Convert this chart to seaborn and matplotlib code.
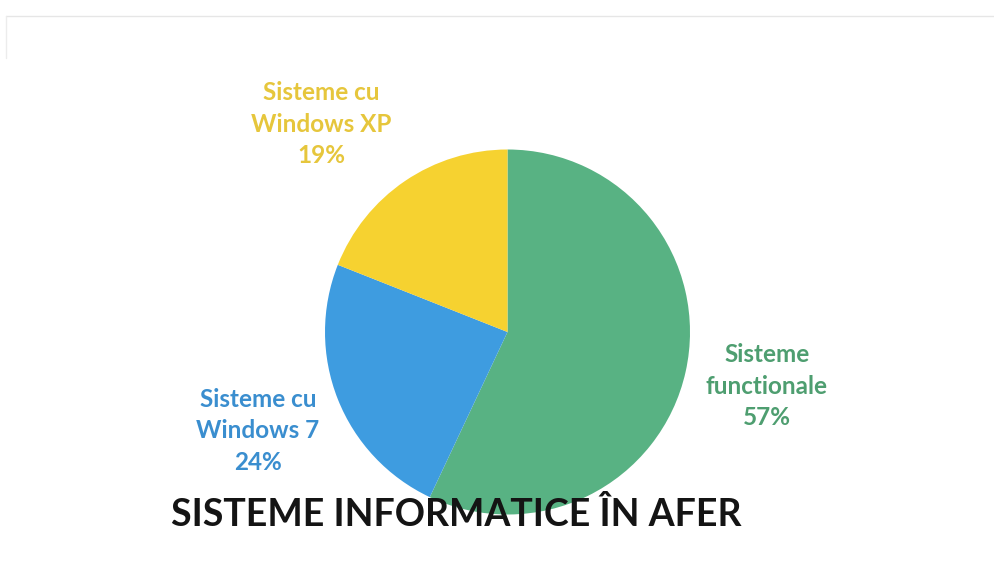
import matplotlib
matplotlib.use("Agg")
import matplotlib.pyplot as plt
import seaborn as sns

categories = ["Sisteme\nfunctionale", "Sisteme cu\nWindows 7", "Sisteme cu\nWindows XP"]
values = [57, 24, 19]
colors = ["#58B283", "#3E9CE0", "#F6D230"]
text_colors = ["#4E9E70", "#3A8ECF", "#E6C63C"]
title = "SISTEME INFORMATICE ÎN AFER"

sns.set_theme(style="white")
plt.rcParams["font.family"] = ["Lato", "DejaVu Sans"]

W, H = 994, 570
fig = plt.figure(figsize=(W / 100, H / 100), dpi=100)
fig.patch.set_facecolor("white")

cx, cy, r = 507.5, 332, 182.5
ax = fig.add_axes([(cx - r) / W, (H - cy - r) / H, 2 * r / W, 2 * r / H])
wedges, _ = ax.pie(values, colors=colors, startangle=90, counterclock=False,
                   radius=1, wedgeprops=dict(linewidth=0))
ax.set_xlim(-1, 1)
ax.set_ylim(-1, 1)
ax.set_aspect("equal")
ax.axis("off")

label_pos = [(767, 386), (258, 431), (321, 124)]
for name, v, c, (px, py) in zip(categories, values, text_colors, label_pos):
    fig.text(px / W, 1 - py / H, f"{name}\n{v}%", color=c, fontsize=17.5,
             fontweight="bold", ha="center", va="center", linespacing=1.45)

fig.text(456 / W, 1 - 515 / H, title, color="#141414", fontsize=27,
         fontweight="bold", ha="center", va="center")

# faint frame of scanned chart
fig.add_artist(plt.Line2D([6 / W, 1], [1 - 16 / H, 1 - 16 / H], color="#e6e6e6", lw=1))
fig.add_artist(plt.Line2D([6 / W, 6 / W], [1 - 16 / H, 1 - 58 / H], color="#ececec", lw=1))

fig.savefig("out.png", dpi=100, facecolor="white")
